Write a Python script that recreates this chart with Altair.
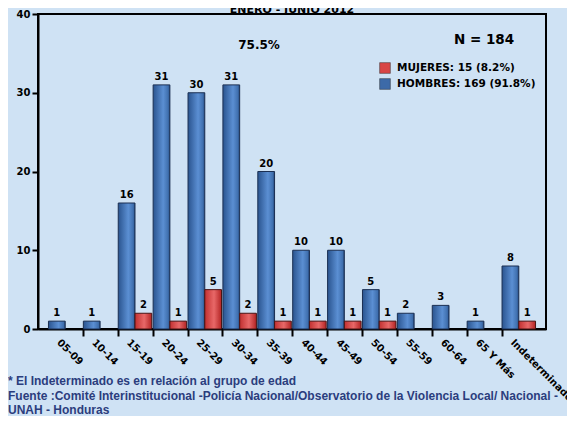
import altair as alt
import pandas as pd

categorias = ["05-09", "10-14", "15-19", "20-24", "25-29", "30-34", "35-39",
              "40-44", "45-49", "50-54", "55-59", "60-64", "65 Y Más", "Indeterminado"]
hombres = [1, 1, 16, 31, 30, 31, 20, 10, 10, 5, 2, 3, 1, 8]
mujeres = [None, None, 2, 1, 5, 2, 1, 1, 1, 1, None, None, None, 1]
series = ["HOMBRES", "MUJERES"]
leyenda = {"MUJERES": "MUJERES: 15 (8.2%)", "HOMBRES": "HOMBRES: 169 (91.8%)"}
y_ticks = [0, 10, 20, 30, 40]
titulo = "ENERO - JUNIO 2012"
porcentaje = "75.5%"
total = "N = 184"
notas = ["* El Indeterminado es en relación al grupo de edad",
         "Fuente :Comité Interinstitucional -Policía Nacional/Observatorio de la Violencia Local/ Nacional -",
         "UNAH - Honduras"]

rows = []
for c, h, m in zip(categorias, hombres, mujeres):
    rows.append({"cat": c, "sexo": "HOMBRES", "n": h, "ley": leyenda["HOMBRES"]})
    if m is not None:
        rows.append({"cat": c, "sexo": "MUJERES", "n": m, "ley": leyenda["MUJERES"]})
df = pd.DataFrame(rows)

W, H = 508, 315
FONT = "DejaVu Sans"

blue_grad = {"gradient": "linear", "x1": 0, "y1": 0, "x2": 1, "y2": 0,
             "stops": [{"offset": 0, "color": "#2a548f"},
                       {"offset": 0.6, "color": "#5b8fd3"},
                       {"offset": 0.9, "color": "#3f6fae"},
                       {"offset": 1, "color": "#1f3f70"}]}
red_grad = {"gradient": "linear", "x1": 0, "y1": 0, "x2": 1, "y2": 0,
            "stops": [{"offset": 0, "color": "#c23030"},
                      {"offset": 0.55, "color": "#e86868"},
                      {"offset": 1, "color": "#b32424"}]}

x = alt.X("cat:N", sort=categorias, title=None,
          scale=alt.Scale(domain=categorias, paddingInner=0.04, paddingOuter=0.3),
          axis=alt.Axis(bandPosition=0, labelAngle=45, labelAlign="left", labelBaseline="top",
                        labelOffset=-3, labelPadding=1, labelFont=FONT, labelFontWeight="bold",
                        labelFontSize=10, labelColor="black", tickSize=7, tickWidth=2,
                        tickColor="black", domainColor="black", domainWidth=2,
                        tickOpacity={"condition": {"test": "datum.value === '05-09'", "value": 0}, "value": 1},
                        labelOverlap=False, labelBound=False))
xo = alt.XOffset("sexo:N", scale=alt.Scale(domain=series, paddingInner=0, paddingOuter=0))
y = alt.Y("n:Q", title=None, scale=alt.Scale(domain=[0, 40], nice=False),
          axis=alt.Axis(values=y_ticks, grid=False, labelFont=FONT, labelFontWeight="bold",
                        labelFontSize=10, labelColor="black", tickSize=6, tickWidth=2,
                        tickColor="black", domainColor="black", domainWidth=2, labelPadding=2))

base = alt.Chart(df).encode(x=x, xOffset=xo, y=y)

bars_h = base.transform_filter("datum.sexo === 'HOMBRES'").mark_bar(
    fill=blue_grad, stroke="#1b2f52", strokeWidth=1)
bars_m = base.transform_filter("datum.sexo === 'MUJERES'").mark_bar(
    fill=red_grad, stroke="#4a1414", strokeWidth=1)

labels = base.mark_text(font=FONT, fontWeight="bold", fontSize=10, color="black",
                        baseline="alphabetic", dy=-5).encode(text="n:Q")

legend_layer = base.mark_point(opacity=0, filled=True, shape="square").encode(
    color=alt.Color("ley:N",
                    scale=alt.Scale(domain=[leyenda["MUJERES"], leyenda["HOMBRES"]],
                                    range=["#d84545", "#3c6aa8"]),
                    legend=alt.Legend(title=None, orient="none", legendX=341, legendY=48,
                                      symbolType="square", symbolSize=115, symbolOpacity=1,
                                      symbolStrokeColor="#333333", symbolStrokeWidth=0.5,
                                      labelFont=FONT, labelFontWeight="bold", labelFontSize=10.5,
                                      labelColor="black", labelOffset=6, rowPadding=2,
                                      padding=0, labelLimit=300)))

title_t = alt.Chart(pd.DataFrame({"t": [titulo]})).mark_text(
    font=FONT, fontWeight="bold", fontSize=11, color="black", baseline="alphabetic",
    align="center").encode(x=alt.value(W / 2), y=alt.value(-1), text="t:N")
pct_t = alt.Chart(pd.DataFrame({"t": [porcentaje]})).mark_text(
    font=FONT, fontWeight="bold", fontSize=12, color="black", baseline="middle",
    align="center").encode(x=alt.value(221), y=alt.value(31), text="t:N")
n_t = alt.Chart(pd.DataFrame({"t": [total]})).mark_text(
    font=FONT, fontWeight="bold", fontSize=13.5, color="black", baseline="middle",
    align="center").encode(x=alt.value(446), y=alt.value(26), text="t:N")
notas_t = alt.Chart(pd.DataFrame({"t": ["\n".join(notas)]})).mark_text(
    font="Liberation Sans", fontWeight="bold", fontSize=12, color="#2b3d7d",
    baseline="top", align="left", lineBreak="\n", lineHeight=14.5).encode(
    x=alt.value(-30), y=alt.value(362), text="t:N")

chart = alt.layer(bars_h, bars_m, labels, legend_layer, title_t, pct_t, n_t, notas_t).properties(
    width=W, height=H,
    autosize=alt.AutoSizeParams(type="none"),
    padding={"left": 30, "top": 6, "right": 21, "bottom": 87},
    background="#cfe2f4",
).configure_view(stroke="black", strokeWidth=2)

chart.save("out.html", embed_options={"renderer": "svg", "actions": False})
